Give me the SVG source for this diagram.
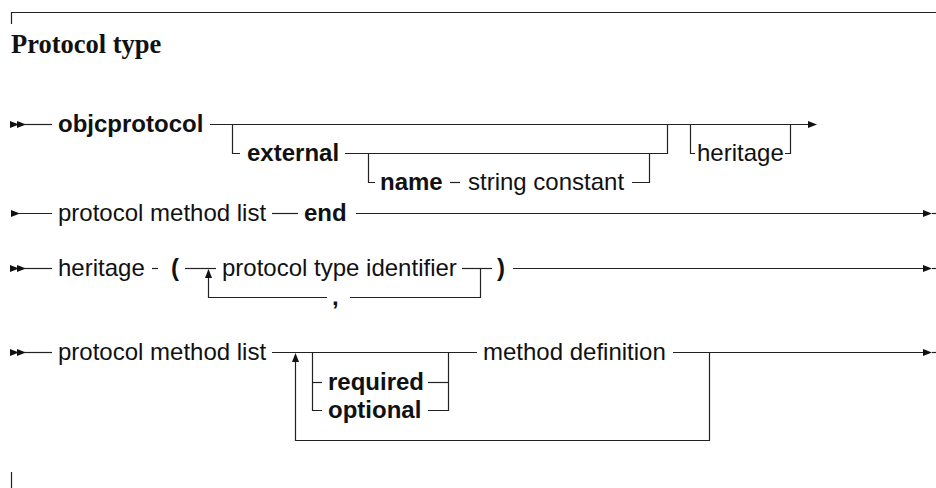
<svg xmlns="http://www.w3.org/2000/svg" width="936" height="488" viewBox="0 0 936 488">
<style>
.t{font-family:"Liberation Sans",Arial,sans-serif;font-size:24px;fill:#111}
.b{font-weight:bold}
.title{font-family:"Liberation Serif","Times New Roman",serif;font-size:26.5px;font-weight:bold;fill:#111}
.ln{stroke:#222;stroke-width:1.2;fill:none}
.ah{fill:#111}
</style>
<defs>
<path id="ar" d="M0,-3.5 L9,0 L0,3.5 Z"/>
<path id="au" d="M-3.5,9 L0,0 L3.5,9 Z"/>
</defs>
<rect width="936" height="488" fill="#fff"/>
<g id="frame">
<path class="ln" d="M11.5,24 V12.5 H936"/>
<path class="ln" d="M11.5,472 V488"/>
</g>
<text id="title" class="title" x="11" y="53">Protocol type</text>

<g id="connectors">
<!-- row 1 -->
<use href="#ar" class="ah" x="10" y="124.5"/>
<use href="#ar" class="ah" x="17" y="124.5"/>
<path class="ln" d="M24,124.5 H52"/>
<path class="ln" d="M210,124.5 H808"/>
<path class="ln" d="M232.5,124.5 V153.5 H240"/>
<path class="ln" d="M345,153.5 H667.5 V124.5"/>
<path class="ln" d="M368.5,153.5 V182.5 H375"/>
<path class="ln" d="M450,182.5 H460"/>
<path class="ln" d="M632,182.5 H649.5 V153.5"/>
<path class="ln" d="M690.5,124.5 V153.5 H695"/>
<path class="ln" d="M785,153.5 H790.5 V124.5"/>
<use href="#ar" class="ah" x="808" y="124.5"/>
<!-- row 2 -->
<use href="#ar" class="ah" x="11" y="213.5"/>
<path class="ln" d="M18,213.5 H52"/>
<path class="ln" d="M272,213.5 H298"/>
<path class="ln" d="M356,213.5 H923"/>
<use href="#ar" class="ah" x="923" y="213.5"/>
<path class="ln" d="M932,213.5 H936"/>
<!-- row 3 -->
<use href="#ar" class="ah" x="10" y="268.5"/>
<use href="#ar" class="ah" x="17" y="268.5"/>
<path class="ln" d="M24,268.5 H52"/>
<path class="ln" d="M152,268.5 H158"/>
<path class="ln" d="M185,268.5 H216"/>
<path class="ln" d="M208.5,270 V297.5 H327"/>
<use href="#au" class="ah" x="208.5" y="269"/>
<path class="ln" d="M350,297.5 H480.5 V268.5"/>
<path class="ln" d="M462,268.5 H492"/>
<path class="ln" d="M513,268.5 H923"/>
<use href="#ar" class="ah" x="923" y="268.5"/>
<path class="ln" d="M932,268.5 H936"/>
<!-- row 4 -->
<use href="#ar" class="ah" x="10" y="352.5"/>
<use href="#ar" class="ah" x="17" y="352.5"/>
<path class="ln" d="M24,352.5 H52"/>
<path class="ln" d="M272,352.5 H477"/>
<path class="ln" d="M295.5,356 V440.5 H709.5 V352.5"/>
<use href="#au" class="ah" x="295.5" y="353"/>
<path class="ln" d="M312.5,352.5 V410.5 H322"/>
<path class="ln" d="M312.5,382.5 H322"/>
<path class="ln" d="M428,382.5 H448.5"/>
<path class="ln" d="M428,410.5 H448.5 V352.5"/>
<path class="ln" d="M673,352.5 H923"/>
<use href="#ar" class="ah" x="923" y="352.5"/>
<path class="ln" d="M932,352.5 H936"/>
</g>

<g id="n-objcprotocol"><text class="t b" x="58" y="132">objcprotocol</text></g>
<g id="n-external"><text class="t b" x="247" y="161">external</text></g>
<g id="n-name"><text class="t b" x="380" y="190">name</text></g>
<g id="n-string-constant"><text class="t" x="468" y="190">string constant</text></g>
<g id="n-heritage1"><text class="t" x="697" y="161">heritage</text></g>

<g id="n-pml2"><text class="t" x="58" y="221">protocol method list</text></g>
<g id="n-end"><text class="t b" x="304" y="221">end</text></g>

<g id="n-heritage3"><text class="t" x="58" y="276">heritage</text></g>
<g id="n-lparen"><text class="t b" x="171" y="276">(</text></g>
<g id="n-pti"><text class="t" x="222" y="276">protocol type identifier</text></g>
<g id="n-comma"><text class="t b" x="332" y="305">,</text></g>
<g id="n-rparen"><text class="t b" x="497" y="276">)</text></g>

<g id="n-pml4"><text class="t" x="58" y="360">protocol method list</text></g>
<g id="n-required"><text class="t b" x="328" y="390">required</text></g>
<g id="n-optional"><text class="t b" x="328" y="418">optional</text></g>
<g id="n-method-def"><text class="t" x="483" y="360">method definition</text></g>
</svg>
